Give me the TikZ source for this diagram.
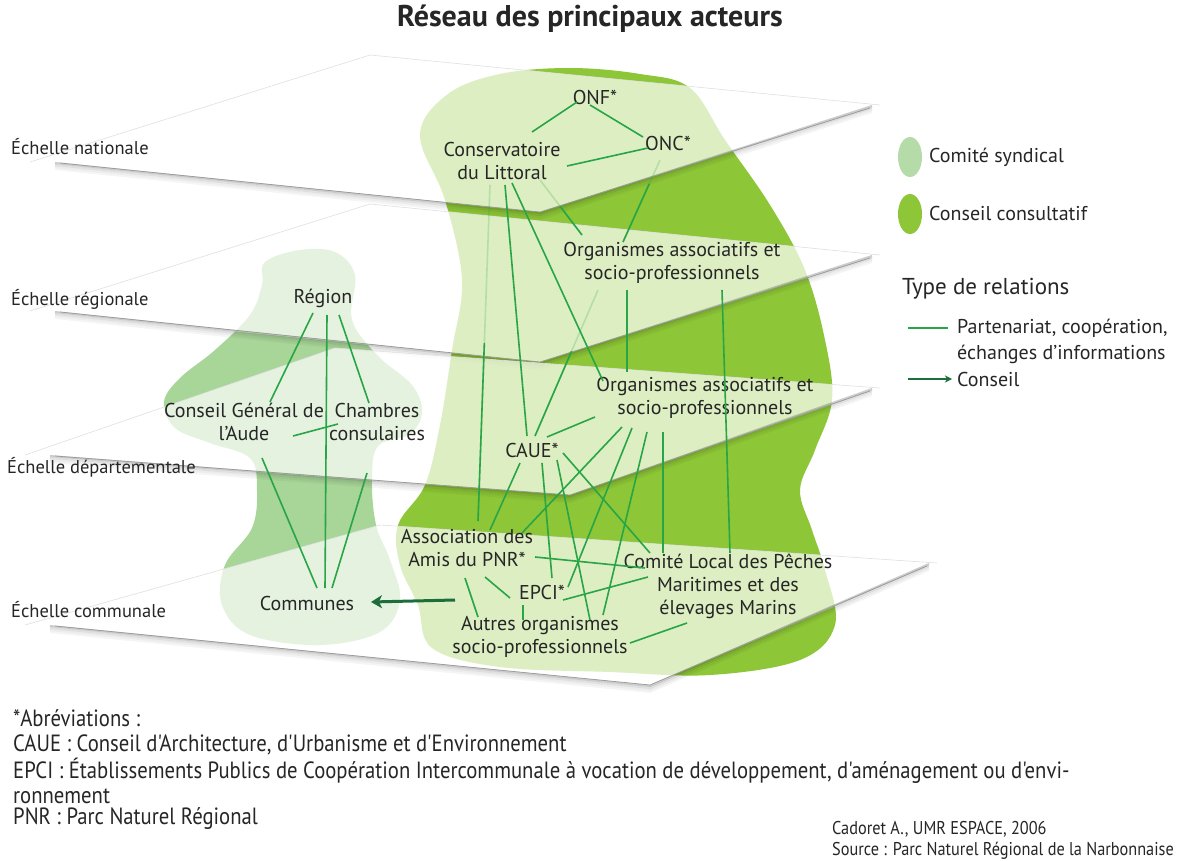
\documentclass[tikz,border=0pt]{standalone}
\usepackage{fontspec}
\setmainfont{PT Sans}
\newfontfamily\condfont[FakeStretch=0.88]{PT Sans}
\usetikzlibrary{calc,arrows.meta}
\definecolor{brightg}{RGB}{141,198,55}
\definecolor{synd}{RGB}{168,213,152}
\definecolor{link}{RGB}{40,165,70}
\definecolor{advice}{RGB}{30,110,60}
\newcommand{\lblfont}{\fontsize{20}{23}\selectfont}
\newcommand{\scalefont}{\fontsize{18.5}{22}\selectfont}
\newcommand{\legfont}{\fontsize{20}{26}\selectfont}
\begin{document}
\begin{tikzpicture}[x=1pt,y=-1pt,
  lbl/.style={font=\lblfont, align=center, inner sep=1pt, text=black!85},
  scl/.style={font=\scalefont, anchor=west, inner sep=0pt, text=black!85},
  leg/.style={font=\legfont, anchor=west, inner sep=0pt, text=black!85},
  lk/.style={draw=link, line width=1.6pt},
  lkf/.style={draw=link, line width=1.6pt, draw opacity=0.22},
  plane/.style={fill=white, fill opacity=0.7},
  fnote/.style={font=\condfont\fontsize{23.5}{26}\selectfont, anchor=west, inner sep=0pt, text=black!85},
  credit/.style={font=\condfont\fontsize{18.5}{22}\selectfont, anchor=west, inner sep=0pt, text=black!85}]
\useasboundingbox (0,0) rectangle (1186,861);
\fill[white] (0,0) rectangle (1186,861);

% ---- blobs
\fill[brightg] plot[smooth cycle, tension=0.6] coordinates {
 (420,135) (448,94) (500,74) (570,68) (640,74) (690,88) (725,140) (770,205)
 (805,270) (825,340) (832,400) (815,450) (800,490) (812,530) (825,570) (835,625)
 (800,660) (710,675) (610,672) (500,667) (432,648) (418,605) (400,565) (398,525)
 (425,485) (440,425) (452,350) (462,280) (445,200)};
\fill[synd] plot[smooth cycle, tension=0.6] coordinates {
 (265,262) (300,250) (335,252) (355,275) (352,320) (378,356) (412,385) (422,412)
 (410,434) (378,446) (372,480) (376,525) (390,560) (400,600) (380,632) (320,645)
 (250,635) (222,605) (225,565) (252,528) (257,490) (250,458) (210,443) (175,428)
 (164,402) (180,378) (215,350) (250,315) (262,285)};

% ---- planes
\coordinate (p1L) at (30,162);  \coordinate (p1T) at (370,55);  \coordinate (p1R) at (880,105); \coordinate (p1B) at (540,212);
\coordinate (p2L) at (30,311);  \coordinate (p2T) at (370,204); \coordinate (p2R) at (880,255); \coordinate (p2B) at (540,362);
\coordinate (p3L) at (25,455);  \coordinate (p3T) at (335,348); \coordinate (p3R) at (880,388); \coordinate (p3B) at (570,495);
\coordinate (p4L) at (25,625);  \coordinate (p4T) at (380,525); \coordinate (p4R) at (937,563); \coordinate (p4B) at (650,685);
\foreach \p in {1,2,3,4}{
  \fill[plane] (p\p L) -- (p\p T) -- (p\p R) -- (p\p B) -- cycle;
  \draw[black!12, line width=0.6pt] (p\p L) -- (p\p T) -- (p\p R);
  \foreach \d/\o in {1/0.2,3/0.12,5/0.07,7/0.04}{
    \draw[black, line width=2pt, draw opacity=\o] ($(p\p L)+(25,\d)$) -- ($(p\p B)+(0,\d)$) -- ($(p\p R)+(-8,\d)$);
  }
  \draw[black!40, line width=0.7pt] ($(p\p L)+(30,1)$) -- (p\p B) -- ($(p\p R)+(-10,3)$);
}

% ---- title
\node[font=\bfseries\fontsize{30}{34}\selectfont, text=black!85] (title) at (590,19) {Réseau des principaux acteurs};

% ---- scale labels
\node[scl] (sn) at (11,147) {Échelle nationale};
\node[scl] (sr) at (11,299) {Échelle régionale};
\node[scl] (sd) at (7,467) {Échelle départementale};
\node[scl] (sc) at (11,610) {Échelle communale};

% ---- actors
\node[lbl] (onf) at (595,97) {ONF*};
\node[lbl] (onc) at (668,143) {ONC*};
\node[lbl] (cons) at (502,161) {Conservatoire\\du Littoral};
\node[lbl] (org1) at (672,263) {Organismes associatifs et\\socio-professionnels};
\node[lbl] (reg) at (323,298) {Région};
\node[lbl] (org2) at (705,398) {Organismes associatifs et\\socio-professionnels};
\node[lbl] (cg) at (244,422) {Conseil Général de\\l'Aude};
\node[lbl] (ch) at (377,422) {Chambres\\consulaires};
\node[lbl] (caue) at (532,450) {CAUE*};
\node[lbl] (asso) at (467,548) {Association des\\Amis du PNR*};
\node[lbl] (clp) at (728,586) {Comité Local des Pêches\\Maritimes et des\\élevages Marins};
\node[lbl] (epci) at (542,592) {EPCI*};
\node[lbl] (autres) at (540,637) {Autres organismes\\socio-professionnels};
\node[lbl] (com) at (307,603) {Communes};

% ---- connectors: national
\draw[lk] ($(onf)+(-18,5)$) -- ($(cons)+(30,-29)$);
\draw[lk] ($(onf)+(-5,8)$) -- ($(onc)+(-25,-6)$);
\draw[lk] ($(cons)+(65,5)$) -- ($(onc)+(-20,5)$);
\coordinate (c4a) at ($(onc)+(-8,17)$); \coordinate (c4b) at ($(org1)+(-49,-21)$);
\draw[lkf] (c4a) -- (c4b); \draw[lk] ($(c4a)!0.29!(c4b)$) -- (c4b);
\coordinate (c5a) at ($(cons)+(38,19)$); \coordinate (c5b) at ($(org1)+(-90,-28)$);
\draw[lkf] (c5a) -- (c5b); \draw[lk] ($(c5a)!0.49!(c5b)$) -- (c5b);
\coordinate (c6a) at ($(cons)+(-12,24)$); \coordinate (c6b) at ($(asso)+(11,-27)$);
\draw[lkf] (c6a) -- (c6b); \draw[lk] ($(c6a)!0.47!(c6b)$) -- (c6b);
\draw[lk] ($(cons)+(3,24)$) -- ($(caue)+(-5,-14)$);
\draw[lk] ($(cons)+(10,22)$) -- ($(org2)+(-102,-17)$);
% regional (org1)
\draw[lk] ($(org1)+(-45,27)$) -- ($(org2)+(-78,-26)$);
\draw[lk] ($(org1)+(50,27)$) -- ($(clp)+(2,-33)$);
\coordinate (c11a) at ($(org1)+(-74,27)$); \coordinate (c11b) at ($(caue)+(3,-14)$);
\draw[lkf] (c11a) -- (c11b); \draw[lk] ($(c11a)!0.42!(c11b)$) -- (c11b);
% region side
\draw[lk] ($(reg)+(-10,15)$) -- ($(cg)+(26,-20)$);
\draw[lk] ($(reg)+(4,17)$) -- ($(com)+(18,-15)$);
\draw[lk] ($(reg)+(16,17)$) -- ($(ch)+(-8,-19)$);
\draw[lk] ($(cg)+(49,14)$) -- ($(ch)+(-39,2)$);
\draw[lk] ($(cg)+(18,36)$) -- ($(com)+(10,-15)$);
\draw[lk] ($(ch)+(-10,51)$) -- ($(com)+(25,-15)$);
% CAUE
\draw[lk] ($(caue)+(15,-13)$) -- ($(org2)+(-110,19)$);
\draw[lk] ($(caue)+(-12,13)$) -- ($(asso)+(23,-18)$);
\draw[lk] ($(caue)+(10,13)$) -- ($(epci)+(10,-14)$);
\draw[lk] ($(caue)+(25,10)$) -- ($(autres)+(50,-17)$);
\draw[lk] ($(caue)+(31,3)$) -- ($(clp)+(-78,-33)$);
% org2
\draw[lk] ($(org2)+(-83,29)$) -- ($(asso)+(55,-15)$);
\draw[lk] ($(org2)+(-73,30)$) -- ($(epci)+(26,-5)$);
\draw[lk] ($(org2)+(-58,34)$) -- ($(autres)+(63,-22)$);
\draw[lk] ($(org2)+(-42,34)$) -- ($(clp)+(-65,-33)$);
% communal
\draw[lk] ($(asso)+(-2,30)$) -- ($(autres)+(-62,-20)$);
\draw[lk] ($(asso)+(18,29)$) -- ($(epci)+(-32,6)$);
\draw[lk] ($(epci)+(-19,13)$) -- ($(autres)+(-17,-17)$);
\draw[lk] ($(asso)+(68,9)$) -- ($(clp)+(-83,-18)$);
\draw[lk] ($(epci)+(21,8)$) -- ($(clp)+(-80,-9)$);
\draw[lk] ($(autres)+(90,6)$) -- ($(clp)+(-41,37)$);
% advice arrow
\coordinate (arrtail) at (455,600);
\draw[advice, line width=3pt, -{Stealth[length=11pt,width=13pt,inset=3pt]}] (arrtail) -- ($(com)+(64,-1)$);

% ---- legend
\fill[synd!85] (910,157) ellipse [x radius=12, y radius=20];
\fill[brightg] (910,214) ellipse [x radius=12, y radius=20];
\node[leg] (lg1) at (929,157) {Comité syndical};
\node[leg] (lg2) at (929,214) {Conseil consultatif};
\node[font=\fontsize{23}{26}\selectfont, anchor=west, inner sep=0pt, text=black!85] (lg3) at (902,289) {Type de relations};
\node[font=\legfont, anchor=west, align=left, inner sep=0pt, text=black!85] (lg4) at (957,341) {Partenariat, coopération,\\échanges d'informations};
\node[leg] (lg5) at (957,379) {Conseil};
\coordinate (lga) at (908,328); \coordinate (lgb) at (948,328);
\draw[lk] (lga) -- (lgb);
\coordinate (lgc) at (908,379); \coordinate (lgd) at (952,379);
\draw[advice, line width=2pt, -{Stealth[length=7pt,width=7pt,inset=2pt]}] (lgc) -- (lgd);

% ---- footnotes
\node[fnote] (f1) at (13,718) {*Abréviations :};
\node[fnote] (f2) at (13,745) {CAUE : Conseil d'Architecture, d'Urbanisme et d'Environnement};
\node[fnote] (f3) at (13,771) {EPCI : Établissements Publics de Coopération Intercommunale à vocation de développement, d'aménagement ou d'envi-};
\node[fnote] (f4) at (13,796) {ronnement};
\node[fnote] (f5) at (13,819) {PNR : Parc Naturel Régional};
\node[credit] (cr1) at (832,829) {Cadoret A., UMR ESPACE, 2006};
\node[credit] (cr2) at (832,851) {Source : Parc Naturel Régional de la Narbonnaise};
\end{tikzpicture}
\end{document}
